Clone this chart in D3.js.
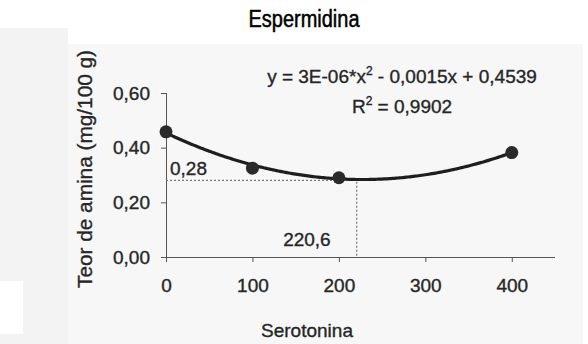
<!DOCTYPE html>
<html>
<head>
<meta charset="utf-8">
<script src="https://cdn.jsdelivr.net/npm/d3@7"></script>
<style>
  html, body { margin: 0; padding: 0; background: #fff; }
  svg { display: block; }
  text { font-family: "Liberation Sans", Arial, sans-serif; }
</style>
</head>
<body>
<svg id="chart" width="588" height="344"></svg>
<script>
// Serotonin dose vs spermidine content
const doses = [0, 100, 200, 400];
const amineContent = [0.458, 0.325, 0.29, 0.382];
const xTicks = [0, 100, 200, 300, 400];
const yTicks = [0, 0.2, 0.4, 0.6];
// quadratic trend: a*x^2 + b*x + c
const trendCoef = [3.3e-6, -0.0015, 0.4539];
// fitted minimum marked on the chart
const minPoint = [220.6, 0.28];
const titleText = "Espermidina";
const xLabel = "Serotonina";
const yLabel = "Teor de amina (mg/100 g)";
const r2Text = "0,9902";

const svg = d3.select("#chart");
const ink = "#262626";

// paper background
svg.append("rect").attr("x", 0).attr("y", 28).attr("width", 68).attr("height", 316).attr("fill", "#f3f3f3");
svg.append("rect").attr("x", 68).attr("y", 44).attr("width", 515).attr("height", 300).attr("fill", "#f7f7f7");
svg.append("rect").attr("x", 0).attr("y", 281).attr("width", 23).attr("height", 53).attr("fill", "#fff");

const x = d3.scaleLinear().domain([0, 450]).range([166, 555]);
const y = d3.scaleLinear().domain([0, 0.6]).range([257, 93]);

const comma = d3.formatLocale({decimal: ",", thousands: ".", grouping: [3], currency: ["", ""]});
const fmtY = comma.format(".2f");
const fmtX = comma.format("d");

// shared look for all chart text
function inked(sel, size) {
  return sel.attr("fill", ink).attr("font-size", size)
    .attr("stroke", ink).attr("stroke-width", 0.35)
    .attr("font-family", "'Liberation Sans', Arial, sans-serif");
}

// x axis
const gx = svg.append("g").attr("transform", `translate(0,${y(0)})`)
  .call(d3.axisBottom(x).tickValues(xTicks).tickFormat(fmtX).tickSize(5).tickPadding(17));
gx.select(".domain").attr("stroke", "#555").attr("d", `M${x(0) - 4},0.5H${x(450)}`);
gx.selectAll(".tick line").attr("stroke", "#555");
inked(gx.selectAll(".tick text"), 19);

// y axis
const gy = svg.append("g").attr("transform", `translate(${x(0)},0)`)
  .call(d3.axisLeft(y).tickValues(yTicks).tickFormat(fmtY).tickSize(5).tickPadding(11));
gy.select(".domain").attr("stroke", "#555").attr("d", `M0.5,${y(0.6)}V${y(0) + 5}`);
gy.selectAll(".tick line").attr("stroke", "#555");
inked(gy.selectAll(".tick text"), 19);

// guide lines to the minimum
svg.append("path")
  .attr("d", `M${x(0)},${y(minPoint[1])}H${x(minPoint[0])}V${y(0)}`)
  .attr("fill", "none").attr("stroke", "#777").attr("stroke-width", 1.2)
  .attr("stroke-dasharray", "2,2");

// trend curve
const trend = d3.range(0, 400.5, 2).map(v => [v, trendCoef[0] * v * v + trendCoef[1] * v + trendCoef[2]]);
svg.append("path")
  .datum(trend)
  .attr("d", d3.line().x(d => x(d[0])).y(d => y(d[1])))
  .attr("fill", "none").attr("stroke", "#1e1e1e").attr("stroke-width", 3.2);

// observed points
svg.selectAll("circle.pt").data(doses).enter().append("circle")
  .attr("class", "pt")
  .attr("cx", d => x(d))
  .attr("cy", (d, i) => y(amineContent[i]))
  .attr("r", 6.5)
  .attr("fill", "#2a2a2a");

// minimum labels
inked(svg.append("text"), 19).attr("x", x(0) + 4).attr("y", y(minPoint[1]) - 5)
  .text(fmtY(minPoint[1]));
inked(svg.append("text"), 19).attr("x", x(minPoint[0]) - 26).attr("y", 246)
  .attr("text-anchor", "end").text(comma.format(".1f")(minPoint[0]));

// equation
const eq = inked(svg.append("text"), 19).attr("x", 402).attr("y", 83).attr("text-anchor", "middle");
eq.append("tspan").text("y = 3E-06*x");
eq.append("tspan").attr("font-size", 12).attr("dy", -8).text("2");
eq.append("tspan").attr("dy", 8).text(" - 0,0015x + 0,4539");

const r2 = inked(svg.append("text"), 19).attr("x", 402).attr("y", 113).attr("text-anchor", "middle");
r2.append("tspan").text("R");
r2.append("tspan").attr("font-size", 12).attr("dy", -8).text("2");
r2.append("tspan").attr("dy", 8).text(" = " + r2Text);

// title
svg.append("text").attr("x", 304).attr("y", 27).attr("text-anchor", "middle")
  .attr("font-size", 23).attr("fill", "#000")
  .attr("stroke", "#000").attr("stroke-width", 0.5)
  .attr("textLength", 111).attr("lengthAdjust", "spacingAndGlyphs")
  .text(titleText);

// axis titles
inked(svg.append("text"), 19).attr("x", 307).attr("y", 337).attr("text-anchor", "middle")
  .text(xLabel);
inked(svg.append("text"), 20).attr("transform", "translate(92,169) rotate(-90)")
  .attr("text-anchor", "middle").attr("textLength", 238).attr("lengthAdjust", "spacingAndGlyphs")
  .text(yLabel);
</script>
</body>
</html>
